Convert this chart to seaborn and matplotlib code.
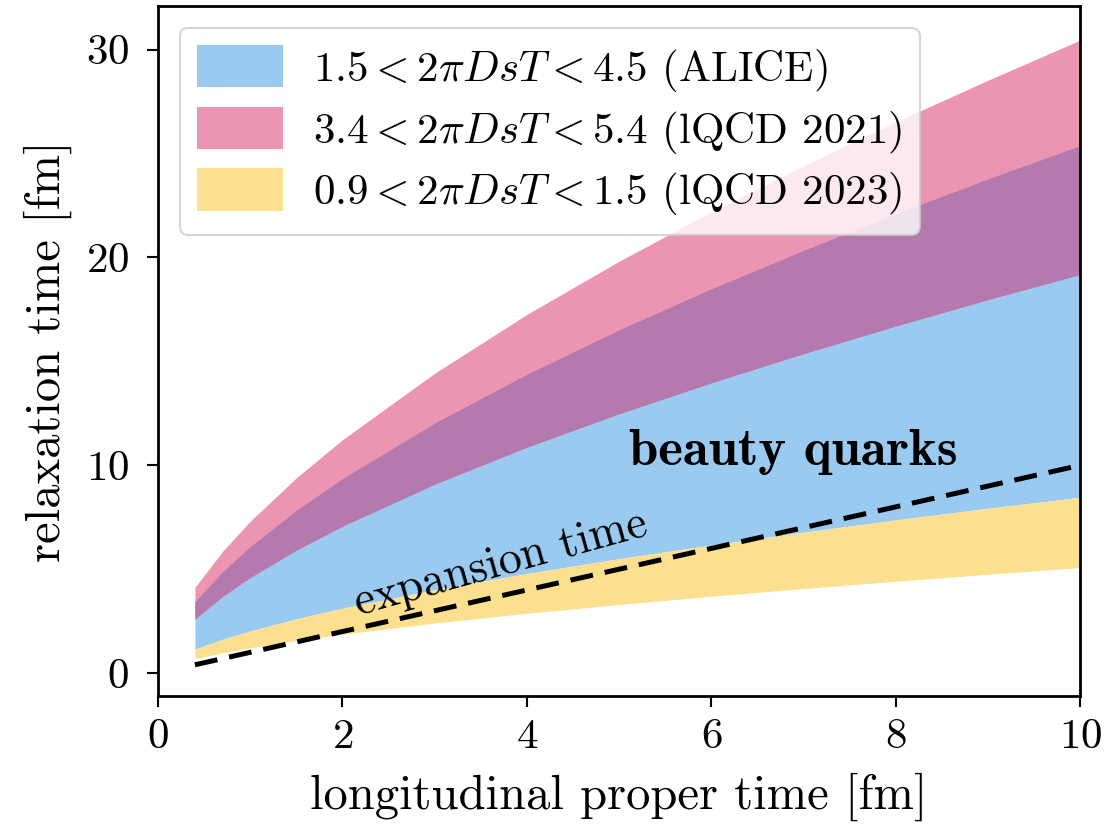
import numpy as np
import pandas as pd
import seaborn as sns
import matplotlib.pyplot as plt

# longitudinal proper time [fm]
tau = [0.4, 0.7, 1.0, 1.5, 2.0, 3.0, 4.0, 5.0, 6.0, 7.0, 8.0, 9.0, 10.0]
# band edges (relaxation time [fm])
alice_lo = [1.15, 1.63, 2.03, 2.61, 3.12, 4.01, 4.79, 5.51, 6.16, 6.78, 7.37, 7.93, 8.46]
alice_hi = [3.44, 4.88, 6.09, 7.83, 9.36, 12.03, 14.38, 16.52, 18.49, 20.34, 22.10, 23.78, 25.38]
lqcd21_lo = [2.60, 3.69, 4.60, 5.92, 7.07, 9.09, 10.87, 12.48, 13.97, 15.37, 16.70, 17.97, 19.18]
lqcd21_hi = [4.13, 5.86, 7.31, 9.40, 11.23, 14.43, 17.26, 19.82, 22.19, 24.41, 26.52, 28.53, 30.46]
lqcd23_lo = [0.69, 0.98, 1.22, 1.57, 1.87, 2.41, 2.88, 3.30, 3.70, 4.07, 4.42, 4.76, 5.08]
lqcd23_hi = alice_lo
# expansion time = proper time
expansion = tau

labels = [r'$1.5 < 2\pi DsT < 4.5$ (ALICE)',
          r'$3.4 < 2\pi DsT < 5.4$ (lQCD 2021)',
          r'$0.9 < 2\pi DsT < 1.5$ (lQCD 2023)']
c_blue = '#9acaf0'
c_pink = '#ec95b3'
c_purple = '#b479ad'
c_yellow = '#fde08f'

sns.set_style("ticks")
plt.rcParams['font.family'] = ['cmr10', 'DejaVu Serif']
plt.rcParams['mathtext.fontset'] = 'cm'
plt.rcParams['axes.formatter.use_mathtext'] = True
for k in ['text.color', 'axes.labelcolor', 'xtick.color', 'ytick.color', 'axes.edgecolor']:
    plt.rcParams[k] = 'black'

fig = plt.figure(figsize=(11.09, 8.35), dpi=100)
ax = fig.add_axes([0.1425, 0.1665, 0.8315, 0.8263])

t = np.array(tau)
ax.fill_between(t, alice_lo, alice_hi, color=c_blue, lw=0, label=labels[0])
ax.fill_between(t, lqcd21_lo, lqcd21_hi, color=c_pink, lw=0, label=labels[1])
# overlap of the ALICE and lQCD 2021 bands
ax.fill_between(t, lqcd21_lo, np.minimum(alice_hi, lqcd21_hi), color=c_purple, lw=0)
ax.fill_between(t, lqcd23_lo, lqcd23_hi, color=c_yellow, lw=0, label=labels[2])

df = pd.DataFrame({'tau': tau, 'expansion': expansion})
sns.lineplot(data=df, x='tau', y='expansion', ax=ax, color='black',
             dashes=False, legend=False)
ax.lines[-1].set_linewidth(3.6)
ax.lines[-1].set_dashes((4.6, 2.4))

ax.text(3.72, 5.25, 'expansion time', fontsize=33, rotation=15.5,
        ha='center', va='center')
ax.text(6.89, 10.62, 'beauty quarks', fontsize=38, fontfamily='cmb10',
        ha='center', va='center')

ax.set_xlim(0, 10)
ax.set_ylim(-1.1, 32.1)
ax.set_xticks([0, 2, 4, 6, 8, 10])
ax.set_yticks([0, 10, 20, 30])
ax.set_xlabel('longitudinal proper time [fm]', fontsize=35, labelpad=12)
ax.set_ylabel('relaxation time [fm]', fontsize=35, labelpad=10)
ax.tick_params(axis='both', labelsize=31, length=8, width=1.5, direction='out')
ax.tick_params(axis='x', pad=8)
ax.tick_params(axis='y', pad=13)
for s in ax.spines.values():
    s.set_linewidth(2)
    s.set_color('black')

leg = ax.legend(loc='upper left', fontsize=31, handlelength=2.0,
                handleheight=1.15, labelspacing=0.3, borderpad=0.4,
                handletextpad=0.7, borderaxespad=0.5,
                framealpha=0.8, fancybox=True)
leg.get_frame().set_edgecolor('#cccccc')
leg.get_frame().set_linewidth(1.5)

plt.savefig('out.png', dpi=100)
